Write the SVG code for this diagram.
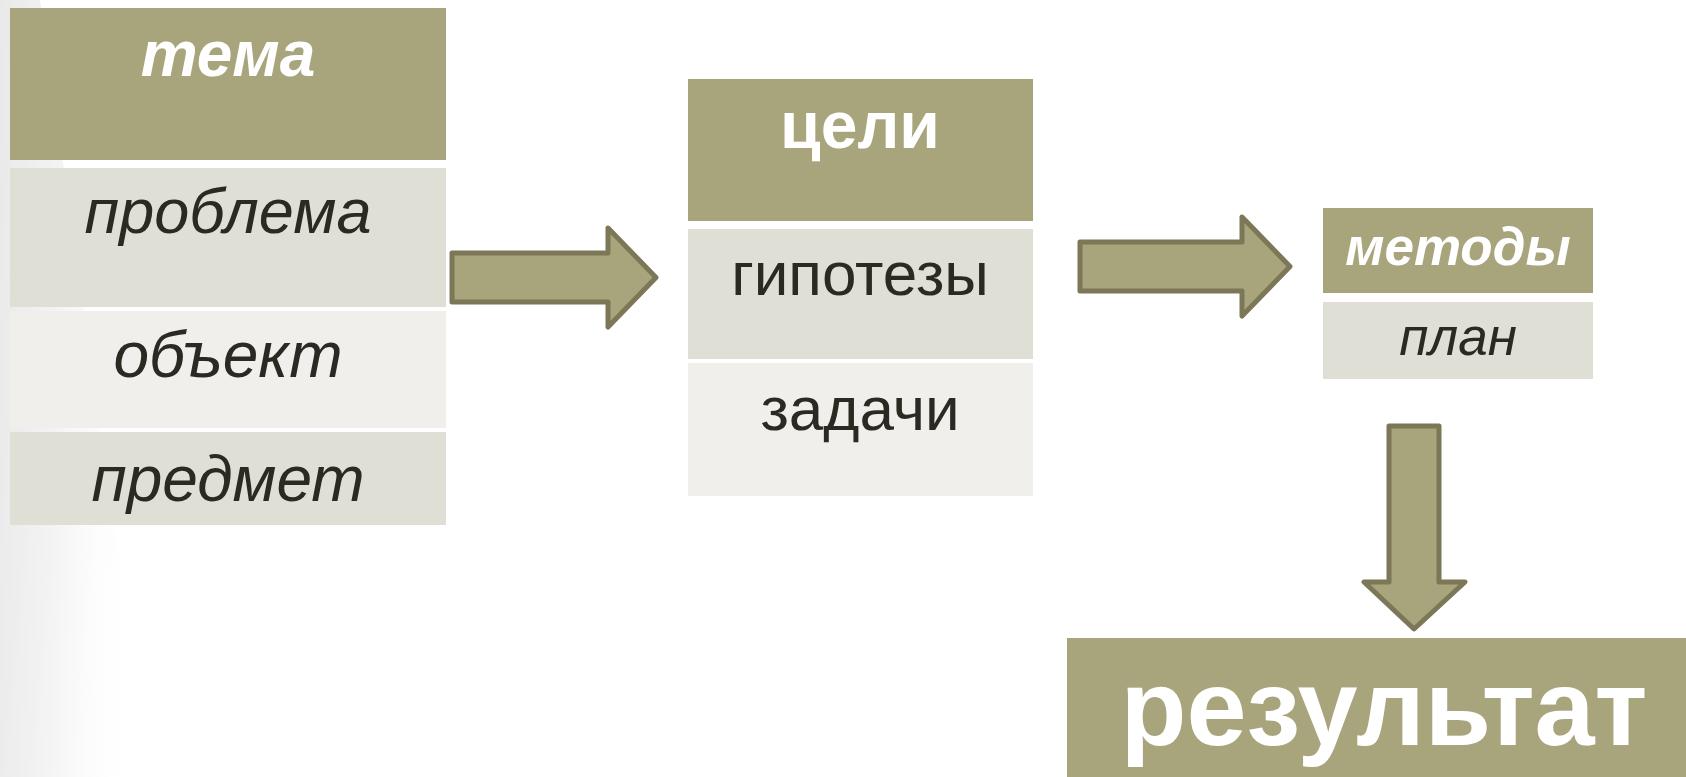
<svg xmlns="http://www.w3.org/2000/svg" width="1686" height="777" viewBox="0 0 1686 777">
  <defs>
    <linearGradient id="bgshade" x1="0" y1="0" x2="1" y2="0.12">
      <stop offset="0" stop-color="#E9E9E9"/>
      <stop offset="0.45" stop-color="#F4F4F4"/>
      <stop offset="1" stop-color="#FFFFFF" stop-opacity="0"/>
    </linearGradient>
    <style>
      .dark { fill: #A8A57D; }
      .mid { fill: #DFDFD6; }
      .light { fill: #F0EFEB; }
      .arrow { fill: #A8A57D; stroke: #7B7757; stroke-width: 5; stroke-linejoin: round; }
      .hw { font-family: "Liberation Sans", Arial, sans-serif; font-weight: bold; fill: #FFFFFF; text-anchor: middle; }
      .tx { font-family: "Liberation Sans", Arial, sans-serif; fill: #2B2A22; text-anchor: middle; }
      .it { font-style: italic; }
    </style>
  </defs>
  <rect width="1686" height="777" fill="#FFFFFF"/>
  <path d="M0,0 L40,0 L150,777 L0,777 Z" fill="url(#bgshade)"/>

  <g id="connectors">
    <polygon class="arrow" points="452,253 608,253 608,228 656,277.5 608,327 608,302 452,302"/>
    <polygon class="arrow" points="1080,242 1242,242 1242,217 1290,266.5 1242,316 1242,291 1080,291"/>
    <polygon class="arrow" points="1389,426 1439,426 1439,582 1465,582 1414,629 1364,582 1389,582"/>
  </g>

  <g id="tema">
    <rect class="dark" x="10" y="8" width="436" height="152"/>
    <text class="hw it" x="228" y="76" font-size="64">тема</text>
  </g>
  <g id="problema">
    <rect class="mid" x="10" y="168" width="436" height="139"/>
    <text class="tx it" x="228" y="233" font-size="63">проблема</text>
  </g>
  <g id="obekt">
    <rect class="light" x="10" y="311" width="436" height="117"/>
    <text class="tx it" x="228" y="377" font-size="64">объект</text>
  </g>
  <g id="predmet">
    <rect class="mid" x="10" y="432" width="436" height="93"/>
    <text class="tx it" x="228" y="501" font-size="64">предмет</text>
  </g>

  <g id="tseli">
    <rect class="dark" x="688" y="79" width="345" height="142"/>
    <text class="hw" x="860" y="148" font-size="66">цели</text>
  </g>
  <g id="gipotezy">
    <rect class="mid" x="688" y="229" width="345" height="130"/>
    <text class="tx" x="860" y="295" font-size="62">гипотезы</text>
  </g>
  <g id="zadachi">
    <rect class="light" x="688" y="363" width="345" height="133"/>
    <text class="tx" x="860" y="430" font-size="62">задачи</text>
  </g>

  <g id="metody">
    <rect class="dark" x="1323" y="208" width="270" height="85"/>
    <text class="hw it" x="1458" y="265" font-size="53">методы</text>
  </g>
  <g id="plan">
    <rect class="mid" x="1323" y="302" width="270" height="77"/>
    <text class="tx it" x="1458" y="355" font-size="53">план</text>
  </g>

  <g id="rezultat">
    <rect class="dark" x="1067" y="638" width="619" height="139"/>
    <text class="hw" x="1384" y="745" font-size="108">результат</text>
  </g>
</svg>
